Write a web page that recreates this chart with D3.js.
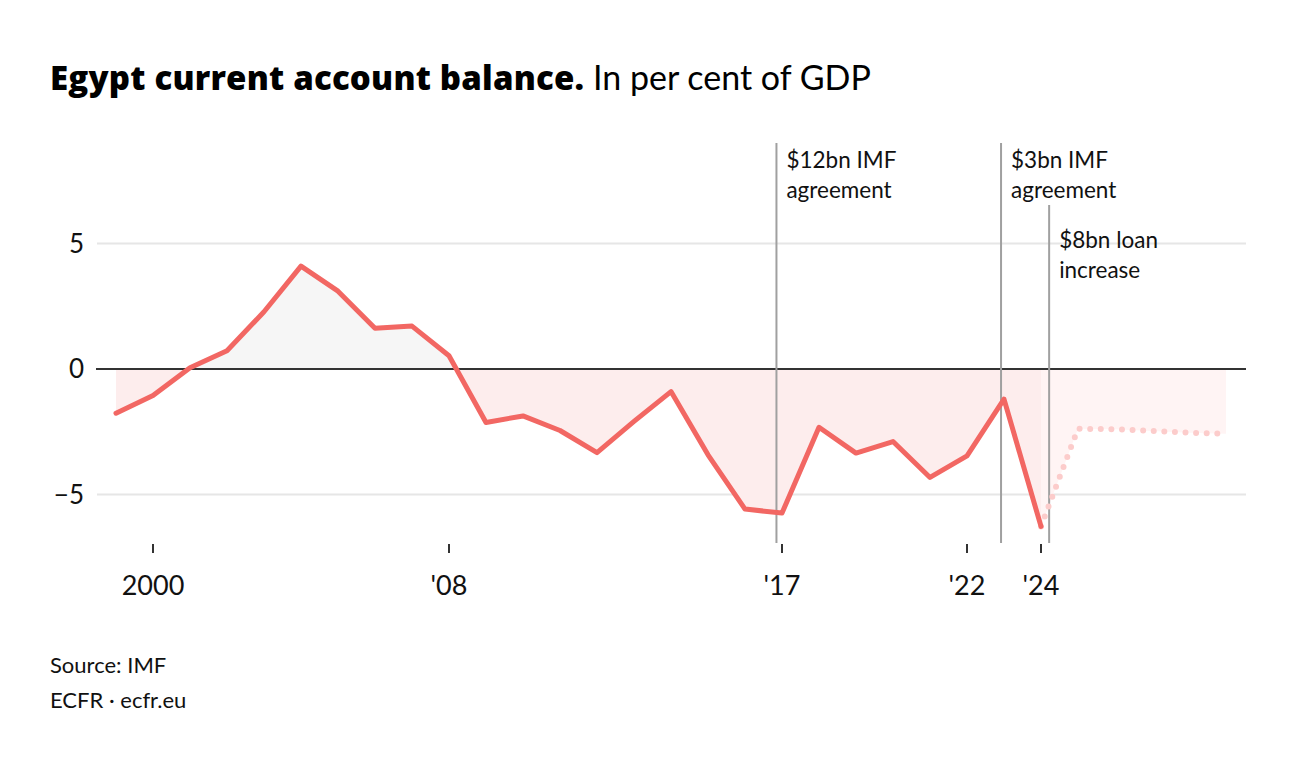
<!DOCTYPE html>
<html><head><meta charset="utf-8">
<script src="https://cdn.jsdelivr.net/npm/d3@7"></script>
<style>
html,body{margin:0;padding:0;background:#fff;}
text{font-family:Lato,"Noto Sans",sans-serif;}
</style></head>
<body><svg id="c" width="1300" height="768"></svg>
<script>
const years = d3.range(1999, 2025);
const values = [-1.76,-1.06,0.05,0.73,2.28,4.1,3.1,1.62,1.71,0.53,-2.13,-1.87,-2.45,-3.33,-2.09,-0.9,-3.42,-5.58,-5.74,-2.32,-3.35,-2.89,-4.32,-3.46,-1.2,-6.27];
const projYears = [2024, 2025, 2026, 2027, 2028, 2029];
const projValues = [-6.27, -2.38, -2.4, -2.47, -2.54, -2.58];
const tickYears = [2000, 2008, 2017, 2022, 2024];
const tickLabels = ["2000", "'08", "'17", "'22", "'24"];
const yTicks = [5, 0, -5];
const yTickLabels = ["5", "0", "\u22125"];
const events = [2016.85, 2022.92, 2024.22];
const eventLabels = [["$12bn IMF","agreement"],["$3bn IMF","agreement"],["$8bn loan","increase"]];

const svg = d3.select("#c");
const x = d3.scaleLinear().domain([1999, 2029]).range([116, 1226]);
const y = d3.scaleLinear().domain([-5, 5]).range([494.5, 243.5]);
const actual = years.map((yr,i)=>({yr, v: values[i]}));
const proj = projYears.map((yr,i)=>({yr, v: projValues[i]}));

// title
const t = svg.append("text").attr("x", 50).attr("y", 90).attr("font-size", 33);
t.append("tspan").attr("font-family", "'Open Sans',Lato,sans-serif").attr("font-weight", 800)
  .attr("letter-spacing", 0.2).text("Egypt current account balance.");
t.append("tspan").attr("font-weight", 400).attr("font-size", 34).attr("letter-spacing", 0).text(" In per cent of GDP");

// gridlines
const gx0 = 97, gx1 = 1246;
svg.append("g").selectAll("line").data(yTicks.filter(d=>d!==0)).join("line")
  .attr("x1", gx0).attr("x2", gx1).attr("y1", d=>y(d)).attr("y2", d=>y(d))
  .attr("stroke", "#e6e6e6").attr("stroke-width", 2);
svg.append("g").selectAll("text").data(yTicks).join("text")
  .attr("x", 84).attr("y", d=>y(d)).attr("dy", "0.35em").attr("text-anchor", "end")
  .attr("font-size", 26).attr("fill", "#111").text((d,i)=>yTickLabels[i]);

// clip paths
const defs = svg.append("defs");
defs.append("clipPath").attr("id","above").append("rect")
  .attr("x", 0).attr("y", 0).attr("width", 1300).attr("height", y(0));
defs.append("clipPath").attr("id","below").append("rect")
  .attr("x", 0).attr("y", y(0)).attr("width", 1300).attr("height", 768 - y(0));

const area = d3.area().x(d=>x(d.yr)).y0(y(0)).y1(d=>y(d.v));
svg.append("path").datum(proj).attr("d", area).attr("fill", "#fff4f4").attr("clip-path","url(#below)");
svg.append("path").datum(actual).attr("d", area).attr("fill", "#f6f6f6").attr("clip-path","url(#above)");
svg.append("path").datum(actual).attr("d", area).attr("fill", "#fdeded").attr("clip-path","url(#below)");

// zero line
svg.append("line").attr("x1", 96).attr("x2", gx1).attr("y1", y(0)).attr("y2", y(0))
  .attr("stroke", "#333", ).attr("stroke-width", 2);

// event lines
svg.append("g").selectAll("line").data(events).join("line")
  .attr("x1", d=>x(d)).attr("x2", d=>x(d))
  .attr("y1", (d,i)=> i===2 ? 205 : 143).attr("y2", 543)
  .attr("stroke", "#a0a0a0").attr("stroke-width", 2);
const evLab = svg.append("g");
events.forEach((e,i)=>{
  const top = i===2 ? 248 : 168;
  const tx = evLab.append("text").attr("x", x(e)+10).attr("y", top).attr("font-size", 22.5).attr("fill", "#111");
  eventLabels[i].forEach((s,j)=>{
    tx.append("tspan").attr("x", x(e)+10).attr("dy", j===0?0:30).text(s);
  });
});

// lines
const line = d3.line().x(d=>x(d.yr)).y(d=>y(d.v));
svg.append("path").datum(proj).attr("d", line).attr("fill","none")
  .attr("stroke", "#fccccb").attr("stroke-width", 6).attr("stroke-linecap","round")
  .attr("stroke-dasharray", "0 10.6");
svg.append("path").datum(actual).attr("d", line).attr("fill","none")
  .attr("stroke", "#f26763").attr("stroke-width", 5).attr("stroke-linejoin","round").attr("stroke-linecap","round");

// x axis ticks
const xa = svg.append("g");
xa.selectAll("line").data(tickYears).join("line")
  .attr("x1", d=>x(d)).attr("x2", d=>x(d)).attr("y1", 544).attr("y2", 553)
  .attr("stroke", "#333").attr("stroke-width", 2);
xa.selectAll("text").data(tickYears).join("text")
  .attr("x", d=>x(d)).attr("y", 595).attr("text-anchor","middle")
  .attr("font-size", 27).attr("fill", "#111").text((d,i)=>tickLabels[i]);

// source
svg.append("text").attr("x", 50).attr("y", 673).attr("font-size", 22).attr("fill","#111").text("Source: IMF");
svg.append("text").attr("x", 50).attr("y", 708).attr("font-size", 22).attr("fill","#111").text("ECFR \u00b7 ecfr.eu");
</script></body></html>
